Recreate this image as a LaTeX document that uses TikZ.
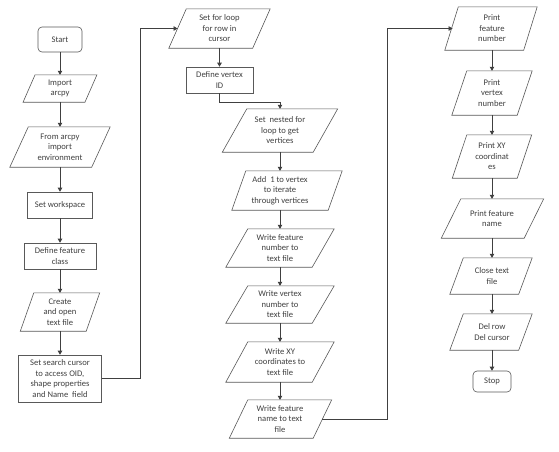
\documentclass[tikz,border=0pt]{standalone}
\usepackage{fontspec}
\setmainfont{Carlito}
\usetikzlibrary{arrows.meta}
\definecolor{lncol}{HTML}{404040}
\definecolor{shcol}{HTML}{595959}
\definecolor{txcol}{HTML}{404040}
\tikzset{
  ptext/.style={draw=none, inner sep=0pt, align=center, text=txcol,
    font=\fontsize{8.6}{10.5}\selectfont},
  procbox/.style={ptext, draw=shcol, line width=0.6pt},
  termbox/.style={procbox, rounded corners=4pt},
  shapeline/.style={draw=shcol, line width=0.6pt},
  conn/.style={draw=lncol, line width=0.6pt, -{Triangle[length=4pt,width=4.5pt]}},
}
% name, x, y, width, height, slant, offset, text
\newcommand\myparall[8]{%
  \node[ptext, minimum width=#4pt, minimum height=#5pt] (#1) at (#2,#3) {#8};
  \draw[shapeline] ([xshift={#7pt+0.5*#6pt}]#1.north west) -- ([xshift={#7pt+0.5*#6pt}]#1.north east)
    -- ([xshift={#7pt-0.5*#6pt}]#1.south east) -- ([xshift={#7pt-0.5*#6pt}]#1.south west) -- cycle;
}
\begin{document}
\begin{tikzpicture}[x=1pt,y=-1pt]
\useasboundingbox[fill=white] (0,0) rectangle (559,451);
% column 1
\node[termbox, minimum width=44pt, minimum height=25pt] (start) at (60,39.5) {Start};
\myparall{imp}{60}{88.5}{61.5}{27}{12}{0}{Import\\arcpy}
\myparall{env}{60}{147}{81.5}{40}{18.5}{0}{From arcpy\\import\\environment}
\node[procbox, minimum width=65pt, minimum height=26pt] (ws) at (60,205) {Set workspace};
\node[procbox, minimum width=72pt, minimum height=26pt] (dfc) at (60,256) {Define feature\\class};
\myparall{cre}{60}{312}{65.5}{38}{13.5}{0}{Create\\and open\\text file}
\node[procbox, minimum width=83pt, minimum height=47pt] (cur) at (60,378.5) {Set search cursor\\to access OID,\\shape properties\\and Name\ \ field};
% column 2
\myparall{loop}{219.5}{28.5}{83.5}{39}{17.5}{0}{Set for loop\\for row in\\cursor}
\node[procbox, minimum width=67pt, minimum height=26pt] (vid) at (219.5,80) {Define vertex\\ID};
\myparall{nest}{280}{130.5}{90.5}{43}{24.5}{0}{Set\ \ nested for\\loop to get\\vertices}
\myparall{add}{280}{190.5}{96}{39}{14}{7}{Add\ \ 1 to vertex\\to iterate\\through vertices}
\myparall{wfn}{280}{248}{86}{38}{22}{0}{Write feature\\number to\\text file}
\myparall{wvn}{280}{304.5}{86}{37}{22}{0}{Write vertex\\number to\\text file}
\myparall{wxy}{280}{362}{86}{40}{22}{0}{Write XY\\coordinates to\\text file}
\myparall{wname}{280}{419}{83.5}{38}{18.5}{0.5}{Write feature\\name to text\\file}
% column 3
\myparall{pfn}{492}{28.5}{78.5}{43}{13.5}{-1}{Print\\feature\\number}
\myparall{pvn}{492}{93}{65}{44}{15}{0}{Print\\vertex\\number}
\myparall{pxy}{492}{156.5}{64.5}{43}{14.5}{0}{Print XY\\coordinat\\es}
\myparall{pname}{492}{218.5}{82.5}{39}{19.5}{0.5}{Print feature\\name}
\myparall{close}{492}{276}{68.5}{36}{13.5}{-1}{Close text\\file}
\myparall{del}{492}{332}{68.5}{36}{13.5}{-1}{Del row\\Del cursor}
\node[termbox, minimum width=38pt, minimum height=21pt] (stop) at (492,381.5) {Stop};
% connectors column 1
\draw[conn] (start) -- (imp);
\draw[conn] (imp) -- (env);
\draw[conn] (env) -- (ws);
\draw[conn] (ws) -- (dfc);
\draw[conn] (dfc) -- (cre);
\draw[conn] (cre) -- (cur);
\draw[conn] (cur.east) -- ++(38,0) |- (loop.west);
% connectors column 2
\draw[conn] (loop) -- (vid);
\draw[conn] (vid.south) -- ++(0,9) -| (nest.north);
\draw[conn] (nest) -- (add);
\draw[conn] (add) -- (wfn);
\draw[conn] (wfn) -- (wvn);
\draw[conn] (wvn) -- (wxy);
\draw[conn] (wxy) -- (wname);
\draw[conn] (wname.east) -- ++(65,0) |- (pfn.west);
% connectors column 3
\draw[conn] (pfn) -- (pvn);
\draw[conn] (pvn) -- (pxy);
\draw[conn] (pxy) -- (pname);
\draw[conn] (pname) -- (close);
\draw[conn] (close) -- (del);
\draw[conn] (del) -- (stop);
\end{tikzpicture}
\end{document}
